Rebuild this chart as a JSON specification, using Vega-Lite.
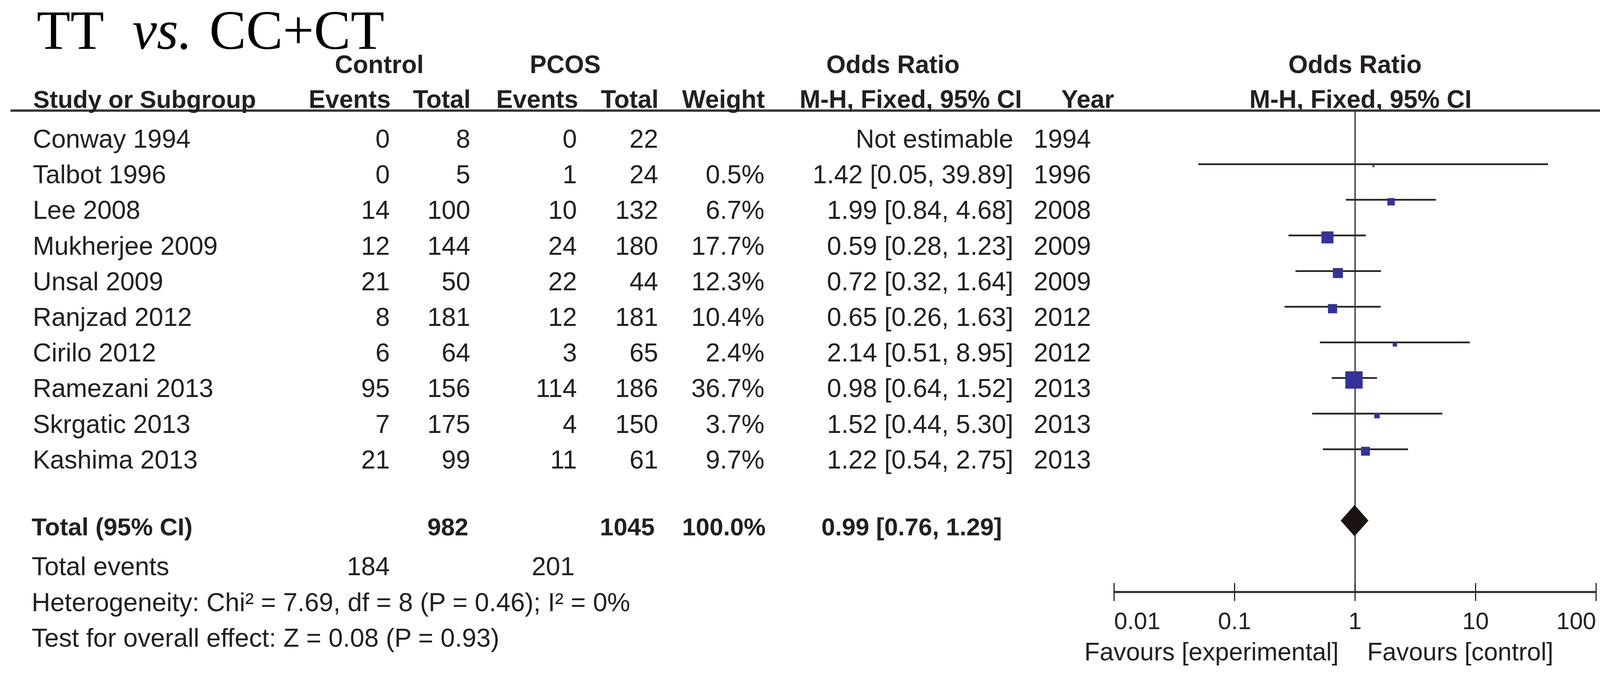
{
  "$schema": "https://vega.github.io/schema/vega-lite/v6.json",
  "width": 4165,
  "height": 1776,
  "autosize": {"type": "fit", "contains": "padding"},
  "padding": 0,
  "background": "white",
  "config": {"view": {"stroke": null}, "text": {"font": "Liberation Sans", "color": "#231f20"}},
  "datasets": {
    "studies": [
      {"study": "Conway 1994", "ctl_events": 0, "ctl_total": 8, "pcos_events": 0, "pcos_total": 22, "weight": null, "weight_text": "", "or": null, "lo": null, "hi": null, "or_text": "Not estimable", "year": "1994", "row": 1},
      {"study": "Talbot 1996", "ctl_events": 0, "ctl_total": 5, "pcos_events": 1, "pcos_total": 24, "weight": 0.5, "weight_text": "0.5%", "or": 1.42, "lo": 0.05, "hi": 39.89, "or_text": "1.42 [0.05, 39.89]", "year": "1996", "row": 2},
      {"study": "Lee 2008", "ctl_events": 14, "ctl_total": 100, "pcos_events": 10, "pcos_total": 132, "weight": 6.7, "weight_text": "6.7%", "or": 1.99, "lo": 0.84, "hi": 4.68, "or_text": "1.99 [0.84, 4.68]", "year": "2008", "row": 3},
      {"study": "Mukherjee 2009", "ctl_events": 12, "ctl_total": 144, "pcos_events": 24, "pcos_total": 180, "weight": 17.7, "weight_text": "17.7%", "or": 0.59, "lo": 0.28, "hi": 1.23, "or_text": "0.59 [0.28, 1.23]", "year": "2009", "row": 4},
      {"study": "Unsal 2009", "ctl_events": 21, "ctl_total": 50, "pcos_events": 22, "pcos_total": 44, "weight": 12.3, "weight_text": "12.3%", "or": 0.72, "lo": 0.32, "hi": 1.64, "or_text": "0.72 [0.32, 1.64]", "year": "2009", "row": 5},
      {"study": "Ranjzad 2012", "ctl_events": 8, "ctl_total": 181, "pcos_events": 12, "pcos_total": 181, "weight": 10.4, "weight_text": "10.4%", "or": 0.65, "lo": 0.26, "hi": 1.63, "or_text": "0.65 [0.26, 1.63]", "year": "2012", "row": 6},
      {"study": "Cirilo 2012", "ctl_events": 6, "ctl_total": 64, "pcos_events": 3, "pcos_total": 65, "weight": 2.4, "weight_text": "2.4%", "or": 2.14, "lo": 0.51, "hi": 8.95, "or_text": "2.14 [0.51, 8.95]", "year": "2012", "row": 7},
      {"study": "Ramezani 2013", "ctl_events": 95, "ctl_total": 156, "pcos_events": 114, "pcos_total": 186, "weight": 36.7, "weight_text": "36.7%", "or": 0.98, "lo": 0.64, "hi": 1.52, "or_text": "0.98 [0.64, 1.52]", "year": "2013", "row": 8},
      {"study": "Skrgatic 2013", "ctl_events": 7, "ctl_total": 175, "pcos_events": 4, "pcos_total": 150, "weight": 3.7, "weight_text": "3.7%", "or": 1.52, "lo": 0.44, "hi": 5.30, "or_text": "1.52 [0.44, 5.30]", "year": "2013", "row": 9},
      {"study": "Kashima 2013", "ctl_events": 21, "ctl_total": 99, "pcos_events": 11, "pcos_total": 61, "weight": 9.7, "weight_text": "9.7%", "or": 1.22, "lo": 0.54, "hi": 2.75, "or_text": "1.22 [0.54, 2.75]", "year": "2013", "row": 10}
    ],
    "overall": [
      {"label": "Total (95% CI)", "ctl_total": 982, "pcos_total": 1045, "weight_text": "100.0%", "or": 0.99, "lo": 0.76, "hi": 1.29, "or_text": "0.99 [0.76, 1.29]", "row": 12}
    ],
    "summary": [
      {"label": "Total events", "ctl_events": "184", "pcos_events": "201", "row": 13},
      {"label": "Heterogeneity: Chi² = 7.69, df = 8 (P = 0.46); I² = 0%", "ctl_events": "", "pcos_events": "", "row": 14},
      {"label": "Test for overall effect: Z = 0.08 (P = 0.93)", "ctl_events": "", "pcos_events": "", "row": 15}
    ],
    "ticks": [
      {"v": 0.01, "label": "0.01"},
      {"v": 0.1, "label": "0.1"},
      {"v": 1, "label": "1"},
      {"v": 10, "label": "10"},
      {"v": 100, "label": "100"}
    ]
  },
  "data": {"values": [{}]},
  "layer": [
    {
      "layer": [
        {
          "mark": {"type": "rule", "color": "#2b2422", "strokeWidth": 3},
          "encoding": {
            "x": {"datum": 1, "type": "quantitative", "scale": {"type": "log", "domain": [0.01, 100], "range": [2852, 4086], "nice": false}, "axis": null},
            "y": {"datum": 0.496, "type": "quantitative", "scale": {"domain": [-2.607, 16.867], "reverse": true, "nice": false, "zero": false}, "axis": null},
            "y2": {"datum": 14.005}
          }
        },
        {
          "data": {"name": "studies"},
          "transform": [{"filter": "isValid(datum.lo)"}],
          "mark": {"type": "rule", "color": "#2b2422", "strokeWidth": 4.5},
          "encoding": {
            "x": {"field": "lo", "type": "quantitative", "axis": null},
            "x2": {"field": "hi"},
            "y": {"field": "row", "type": "quantitative", "axis": null}
          }
        },
        {
          "data": {"name": "studies"},
          "transform": [{"filter": "isValid(datum.or)"}],
          "mark": {"type": "point", "shape": "square", "filled": true, "color": "#333399", "opacity": 1, "strokeWidth": 0, "yOffset": 5},
          "encoding": {
            "x": {"field": "or", "type": "quantitative", "axis": null},
            "y": {"field": "row", "type": "quantitative", "axis": null},
            "size": {"field": "weight", "type": "quantitative", "scale": {"domain": [0, 36.7], "range": [0, 1960]}, "legend": null}
          }
        },
        {
          "data": {"name": "overall"},
          "mark": {"type": "point", "shape": "M-0.8875,0L0,-1L0.8875,0L0,1Z", "size": 6400, "filled": true, "color": "#1a1311", "opacity": 1, "strokeWidth": 0},
          "encoding": {
            "x": {"field": "or", "type": "quantitative", "axis": null},
            "y": {"field": "row", "type": "quantitative", "axis": null}
          }
        },
        {
          "mark": {"type": "rule", "color": "#2b2422", "strokeWidth": 5},
          "encoding": {
            "x": {"datum": 0.01, "type": "quantitative", "axis": null},
            "x2": {"datum": 100},
            "y": {"datum": 14.005, "type": "quantitative", "axis": null}
          }
        },
        {
          "data": {"name": "ticks"},
          "mark": {"type": "rule", "color": "#2b2422", "strokeWidth": 3},
          "encoding": {
            "x": {"field": "v", "type": "quantitative", "axis": null},
            "y": {"datum": 13.753, "type": "quantitative", "axis": null},
            "y2": {"datum": 14.257}
          }
        },
        {
          "data": {"name": "ticks"},
          "transform": [{"filter": "datum.v == 0.01"}],
          "mark": {"type": "text", "align": "left", "baseline": "alphabetic", "fontSize": 61},
          "encoding": {
            "x": {"field": "v", "type": "quantitative", "axis": null},
            "y": {"datum": 15.046, "type": "quantitative", "axis": null},
            "text": {"field": "label", "type": "nominal"}
          }
        },
        {
          "data": {"name": "ticks"},
          "transform": [{"filter": "datum.v > 0.01 && datum.v < 100"}],
          "mark": {"type": "text", "align": "center", "baseline": "alphabetic", "fontSize": 61},
          "encoding": {
            "x": {"field": "v", "type": "quantitative", "axis": null},
            "y": {"datum": 15.046, "type": "quantitative", "axis": null},
            "text": {"field": "label", "type": "nominal"}
          }
        },
        {
          "data": {"name": "ticks"},
          "transform": [{"filter": "datum.v == 100"}],
          "mark": {"type": "text", "align": "right", "baseline": "alphabetic", "fontSize": 61},
          "encoding": {
            "x": {"field": "v", "type": "quantitative", "axis": null},
            "y": {"datum": 15.046, "type": "quantitative", "axis": null},
            "text": {"field": "label", "type": "nominal"}
          }
        },
        {
          "mark": {"type": "text", "text": "Favours [experimental]", "align": "right", "baseline": "alphabetic", "fontSize": 64, "dx": -42},
          "encoding": {
            "x": {"datum": 1, "type": "quantitative", "axis": null},
            "y": {"datum": 15.924, "type": "quantitative", "axis": null}
          }
        },
        {
          "mark": {"type": "text", "text": "Favours [control]", "align": "left", "baseline": "alphabetic", "fontSize": 64, "dx": 31},
          "encoding": {
            "x": {"datum": 1, "type": "quantitative", "axis": null},
            "y": {"datum": 15.924, "type": "quantitative", "axis": null}
          }
        },
        {
          "mark": {"type": "text", "text": "Odds Ratio", "align": "center", "baseline": "alphabetic", "fontSize": 64, "fontWeight": "bold"},
          "encoding": {
            "x": {"datum": 1, "type": "quantitative", "axis": null},
            "y": {"datum": -0.557, "type": "quantitative", "axis": null}
          }
        },
        {
          "mark": {"type": "text", "text": "M-H, Fixed, 95% CI", "align": "center", "baseline": "alphabetic", "fontSize": 64, "fontWeight": "bold", "dx": 14},
          "encoding": {
            "x": {"datum": 1, "type": "quantitative", "axis": null},
            "y": {"datum": 0.419, "type": "quantitative", "axis": null}
          }
        }
      ]
    },
    {
      "layer": [
        {
          "mark": {"type": "rule", "color": "#3a3636", "strokeWidth": 6},
          "encoding": {
            "x": {"datum": 27, "type": "quantitative", "scale": {"domain": [0, 4165], "nice": false, "zero": false}, "axis": null},
            "x2": {"datum": 4150},
            "y": {"datum": 0.496, "type": "quantitative", "axis": null}
          }
        },
        {
          "mark": {"type": "text", "text": "TT", "align": "left", "baseline": "alphabetic", "font": "Liberation Serif", "fontSize": 141, "color": "#000000"},
          "encoding": {"x": {"datum": 94, "type": "quantitative", "axis": null}, "y": {"datum": -1.236, "type": "quantitative", "axis": null}}
        },
        {
          "mark": {"type": "text", "text": "vs.", "align": "left", "baseline": "alphabetic", "font": "Liberation Serif", "fontStyle": "italic", "fontSize": 141, "color": "#000000"},
          "encoding": {"x": {"datum": 339, "type": "quantitative", "axis": null}, "y": {"datum": -1.236, "type": "quantitative", "axis": null}}
        },
        {
          "mark": {"type": "text", "text": "CC+CT", "align": "left", "baseline": "alphabetic", "font": "Liberation Serif", "fontSize": 141, "color": "#000000"},
          "encoding": {"x": {"datum": 536, "type": "quantitative", "axis": null}, "y": {"datum": -1.236, "type": "quantitative", "axis": null}}
        },
        {
          "mark": {"type": "text", "text": "Control", "align": "center", "baseline": "alphabetic", "fontSize": 64, "fontWeight": "bold"},
          "encoding": {"x": {"datum": 971, "type": "quantitative", "axis": null}, "y": {"datum": -0.557, "type": "quantitative", "axis": null}}
        },
        {
          "mark": {"type": "text", "text": "PCOS", "align": "center", "baseline": "alphabetic", "fontSize": 64, "fontWeight": "bold"},
          "encoding": {"x": {"datum": 1447, "type": "quantitative", "axis": null}, "y": {"datum": -0.557, "type": "quantitative", "axis": null}}
        },
        {
          "mark": {"type": "text", "text": "Odds Ratio", "align": "center", "baseline": "alphabetic", "fontSize": 64, "fontWeight": "bold"},
          "encoding": {"x": {"datum": 2286, "type": "quantitative", "axis": null}, "y": {"datum": -0.557, "type": "quantitative", "axis": null}}
        },
        {
          "mark": {"type": "text", "text": "Study or Subgroup", "align": "left", "baseline": "alphabetic", "fontSize": 63, "fontWeight": "bold"},
          "encoding": {"x": {"datum": 85, "type": "quantitative", "axis": null}, "y": {"datum": 0.419, "type": "quantitative", "axis": null}}
        },
        {
          "mark": {"type": "text", "text": "Events", "align": "right", "baseline": "alphabetic", "fontSize": 64, "fontWeight": "bold"},
          "encoding": {"x": {"datum": 1000, "type": "quantitative", "axis": null}, "y": {"datum": 0.419, "type": "quantitative", "axis": null}}
        },
        {
          "mark": {"type": "text", "text": "Total", "align": "right", "baseline": "alphabetic", "fontSize": 64, "fontWeight": "bold"},
          "encoding": {"x": {"datum": 1205, "type": "quantitative", "axis": null}, "y": {"datum": 0.419, "type": "quantitative", "axis": null}}
        },
        {
          "mark": {"type": "text", "text": "Events", "align": "right", "baseline": "alphabetic", "fontSize": 64, "fontWeight": "bold"},
          "encoding": {"x": {"datum": 1480, "type": "quantitative", "axis": null}, "y": {"datum": 0.419, "type": "quantitative", "axis": null}}
        },
        {
          "mark": {"type": "text", "text": "Total", "align": "right", "baseline": "alphabetic", "fontSize": 64, "fontWeight": "bold"},
          "encoding": {"x": {"datum": 1686, "type": "quantitative", "axis": null}, "y": {"datum": 0.419, "type": "quantitative", "axis": null}}
        },
        {
          "mark": {"type": "text", "text": "Weight", "align": "right", "baseline": "alphabetic", "fontSize": 64, "fontWeight": "bold"},
          "encoding": {"x": {"datum": 1958, "type": "quantitative", "axis": null}, "y": {"datum": 0.419, "type": "quantitative", "axis": null}}
        },
        {
          "mark": {"type": "text", "text": "M-H, Fixed, 95% CI", "align": "left", "baseline": "alphabetic", "fontSize": 64, "fontWeight": "bold"},
          "encoding": {"x": {"datum": 2047, "type": "quantitative", "axis": null}, "y": {"datum": 0.419, "type": "quantitative", "axis": null}}
        },
        {
          "mark": {"type": "text", "text": "Year", "align": "left", "baseline": "alphabetic", "fontSize": 64, "fontWeight": "bold"},
          "encoding": {"x": {"datum": 2717, "type": "quantitative", "axis": null}, "y": {"datum": 0.419, "type": "quantitative", "axis": null}}
        },
        {
          "data": {"name": "studies"},
          "mark": {"type": "text", "align": "left", "baseline": "alphabetic", "dy": 49, "fontSize": 66},
          "encoding": {"x": {"datum": 84, "type": "quantitative", "axis": null}, "y": {"field": "row", "type": "quantitative", "axis": null}, "text": {"field": "study", "type": "nominal"}}
        },
        {
          "data": {"name": "studies"},
          "mark": {"type": "text", "align": "right", "baseline": "alphabetic", "dy": 49, "fontSize": 66},
          "encoding": {"x": {"datum": 998, "type": "quantitative", "axis": null}, "y": {"field": "row", "type": "quantitative", "axis": null}, "text": {"field": "ctl_events", "type": "nominal"}}
        },
        {
          "data": {"name": "studies"},
          "mark": {"type": "text", "align": "right", "baseline": "alphabetic", "dy": 49, "fontSize": 66},
          "encoding": {"x": {"datum": 1204, "type": "quantitative", "axis": null}, "y": {"field": "row", "type": "quantitative", "axis": null}, "text": {"field": "ctl_total", "type": "nominal"}}
        },
        {
          "data": {"name": "studies"},
          "mark": {"type": "text", "align": "right", "baseline": "alphabetic", "dy": 49, "fontSize": 66},
          "encoding": {"x": {"datum": 1477, "type": "quantitative", "axis": null}, "y": {"field": "row", "type": "quantitative", "axis": null}, "text": {"field": "pcos_events", "type": "nominal"}}
        },
        {
          "data": {"name": "studies"},
          "mark": {"type": "text", "align": "right", "baseline": "alphabetic", "dy": 49, "fontSize": 66},
          "encoding": {"x": {"datum": 1685, "type": "quantitative", "axis": null}, "y": {"field": "row", "type": "quantitative", "axis": null}, "text": {"field": "pcos_total", "type": "nominal"}}
        },
        {
          "data": {"name": "studies"},
          "mark": {"type": "text", "align": "right", "baseline": "alphabetic", "dy": 49, "fontSize": 66},
          "encoding": {"x": {"datum": 1957, "type": "quantitative", "axis": null}, "y": {"field": "row", "type": "quantitative", "axis": null}, "text": {"field": "weight_text", "type": "nominal"}}
        },
        {
          "data": {"name": "studies"},
          "mark": {"type": "text", "align": "right", "baseline": "alphabetic", "dy": 49, "fontSize": 66},
          "encoding": {"x": {"datum": 2594, "type": "quantitative", "axis": null}, "y": {"field": "row", "type": "quantitative", "axis": null}, "text": {"field": "or_text", "type": "nominal"}}
        },
        {
          "data": {"name": "studies"},
          "mark": {"type": "text", "align": "right", "baseline": "alphabetic", "dy": 49, "fontSize": 66},
          "encoding": {"x": {"datum": 2793, "type": "quantitative", "axis": null}, "y": {"field": "row", "type": "quantitative", "axis": null}, "text": {"field": "year", "type": "nominal"}}
        },
        {
          "data": {"name": "overall"},
          "mark": {"type": "text", "align": "left", "baseline": "alphabetic", "dy": 38, "fontSize": 63, "fontWeight": "bold"},
          "encoding": {"x": {"datum": 81, "type": "quantitative", "axis": null}, "y": {"field": "row", "type": "quantitative", "axis": null}, "text": {"field": "label", "type": "nominal"}}
        },
        {
          "data": {"name": "overall"},
          "mark": {"type": "text", "align": "right", "baseline": "alphabetic", "dy": 38, "fontSize": 63, "fontWeight": "bold"},
          "encoding": {"x": {"datum": 1199, "type": "quantitative", "axis": null}, "y": {"field": "row", "type": "quantitative", "axis": null}, "text": {"field": "ctl_total", "type": "nominal"}}
        },
        {
          "data": {"name": "overall"},
          "mark": {"type": "text", "align": "right", "baseline": "alphabetic", "dy": 38, "fontSize": 63, "fontWeight": "bold"},
          "encoding": {"x": {"datum": 1676, "type": "quantitative", "axis": null}, "y": {"field": "row", "type": "quantitative", "axis": null}, "text": {"field": "pcos_total", "type": "nominal"}}
        },
        {
          "data": {"name": "overall"},
          "mark": {"type": "text", "align": "right", "baseline": "alphabetic", "dy": 38, "fontSize": 63, "fontWeight": "bold"},
          "encoding": {"x": {"datum": 1960, "type": "quantitative", "axis": null}, "y": {"field": "row", "type": "quantitative", "axis": null}, "text": {"field": "weight_text", "type": "nominal"}}
        },
        {
          "data": {"name": "overall"},
          "mark": {"type": "text", "align": "right", "baseline": "alphabetic", "dy": 38, "fontSize": 63, "fontWeight": "bold"},
          "encoding": {"x": {"datum": 2565, "type": "quantitative", "axis": null}, "y": {"field": "row", "type": "quantitative", "axis": null}, "text": {"field": "or_text", "type": "nominal"}}
        },
        {
          "data": {"name": "summary"},
          "mark": {"type": "text", "align": "left", "baseline": "alphabetic", "dy": 49, "fontSize": 66},
          "encoding": {"x": {"datum": 81, "type": "quantitative", "axis": null}, "y": {"field": "row", "type": "quantitative", "axis": null}, "text": {"field": "label", "type": "nominal"}}
        },
        {
          "data": {"name": "summary"},
          "mark": {"type": "text", "align": "right", "baseline": "alphabetic", "dy": 49, "fontSize": 66},
          "encoding": {"x": {"datum": 998, "type": "quantitative", "axis": null}, "y": {"field": "row", "type": "quantitative", "axis": null}, "text": {"field": "ctl_events", "type": "nominal"}}
        },
        {
          "data": {"name": "summary"},
          "mark": {"type": "text", "align": "right", "baseline": "alphabetic", "dy": 49, "fontSize": 66},
          "encoding": {"x": {"datum": 1471, "type": "quantitative", "axis": null}, "y": {"field": "row", "type": "quantitative", "axis": null}, "text": {"field": "pcos_events", "type": "nominal"}}
        }
      ]
    }
  ],
  "resolve": {"scale": {"x": "independent"}}
}
